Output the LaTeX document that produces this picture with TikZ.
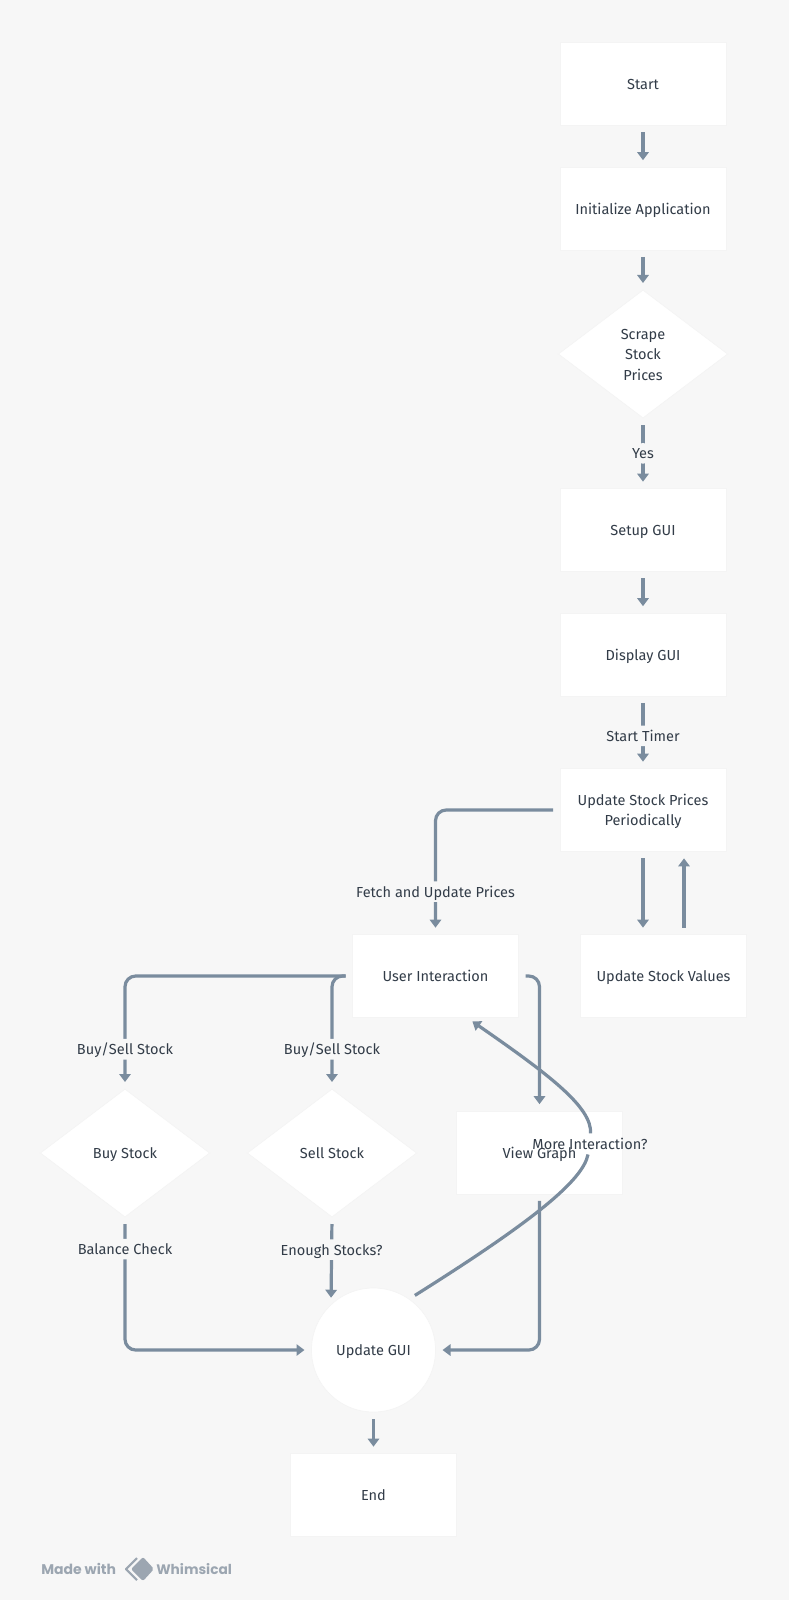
\documentclass[tikz,border=0pt]{standalone}
\usepackage{fontspec}
\setmainfont{Fira Sans}
\newfontfamily\markfont{Poppins}
\usetikzlibrary{arrows.meta,shapes.geometric}
\definecolor{pagebg}{RGB}{247, 247, 247}
\definecolor{flowline}{RGB}{122, 140, 158}
\definecolor{inktext}{RGB}{50, 60, 72}
\definecolor{markgrey}{RGB}{156, 166, 177}
\definecolor{edgefaint}{RGB}{244, 244, 244}
\newcommand{\tstrut}{\rule[-3.5pt]{0pt}{15.4pt}}

\tikzset{
    base/.style={fill=white, draw=edgefaint, line width=0.5pt, inner sep=0pt, align=center,
        text=inktext, font=\fontsize{10.9pt}{15.4pt}\selectfont},
    proc/.style={base, rectangle, minimum width=124.5pt, minimum height=62pt},
    decision/.style={base, diamond, aspect=1.33, minimum width=127pt, minimum height=96pt},
    roundproc/.style={base, circle, minimum size=93pt},
    flow/.style={draw=flowline, line width=2.4pt, rounded corners=8pt, shorten <=5pt,
        shorten >=5pt, -{Triangle[width=8.5pt,length=6pt]}},
    flowtail/.style={draw=flowline, line width=2.4pt},
    lbl/.style={fill=pagebg, inner sep=0pt, text=inktext, execute at begin node=\tstrut,
        font=\fontsize{10.9pt}{15.4pt}\selectfont}
}

\begin{document}
\begin{tikzpicture}[x=0.75pt, y=-0.75pt]

    % --- Fondo ---
    \fill[pagebg] (0,0) rectangle (789,1600);

    % --- Cajas (nombre, x, y, texto) ---
    \foreach \name/\px/\py/\txt in {
        start/643/84/Start,
        init/643/208.5/Initialize Application,
        setup/643/530/Setup GUI,
        display/643/654.5/Display GUI,
        prices/643/810/{Update Stock Prices\\Periodically},
        user/435.5/976/User Interaction,
        values/663.5/976/Update Stock Values,
        graph/539.5/1152.5/View Graph,
        finish/373.5/1495/End}{
        \node[proc] (\name) at (\px, \py) {\tstrut\txt\tstrut};
    }

    % --- Rombos ---
    \foreach \name/\px/\py/\txt in {
        scrape/643/354/{Scrape\\Stock\\Prices},
        buy/125/1153/Buy Stock,
        sell/332/1153/Sell Stock}{
        \node[decision] (\name) at (\px, \py) {\tstrut\txt\tstrut};
    }

    \node[roundproc] (gui) at (373.5, 1350) {\tstrut Update GUI};

    % --- Conectores de la columna derecha ---
    \draw[flow] (start) -- (init);
    \draw[flow] (init) -- (scrape);
    \draw[flow] (scrape) -- (setup) node[midway, lbl] {Yes};
    \draw[flow] (setup) -- (display);
    \draw[flow] (display) -- (prices) node[pos=0.55, lbl] {Start Timer};
    \draw[flow] (prices.south) -- (prices.south |- values.north);
    \draw[flow] ([xshift=15.4pt]values.north) -- ([xshift=15.4pt]values.north |- prices.south);
    \draw[flow] (prices.west) -| (user.north) node[pos=0.828, lbl] {Fetch and Update Prices};

    % --- Ramas de la interaccion ---
    \draw[flow] (user.west) -| (buy.north) node[pos=0.825, lbl] {Buy/Sell Stock};
    \draw[flow] (user.west) -| (sell.north) node[pos=0.825, lbl] {Buy/Sell Stock};
    \draw[flow] (user.east) -| (graph.north);
    \draw[flow] (buy.south) |- (gui.west) node[pos=0.12, lbl] {Balance Check};
    \draw[flow] (sell.south) -- (gui.133) node[pos=0.37, lbl] {Enough Stocks?};
    \draw[flow] (graph.south) |- (gui.east);
    \draw[flow] (gui.south) -- (finish.north);

    % Curva partida en dos para no tapar la caja
    \coordinate (more) at (590, 1144);
    \draw[flowtail, shorten <=5pt, shorten >=8pt] (gui.55)
        .. controls (532.5, 1221.5) and (583, 1180.5) .. (more);
    \draw[flowtail, shorten <=8pt, shorten >=5pt, -{Triangle[width=8.5pt,length=6pt]}] (more)
        .. controls (592, 1107.5) and (550.5, 1075.5) .. (user.-53);
    \node[lbl, fill=none] (morelbl) at (more) {More Interaction?};

    % --- Marca ---
    \node[anchor=west, inner sep=0pt, text=markgrey, font=\markfont\bfseries\fontsize{10.5pt}{12pt}\selectfont] (made) at (41, 1569) {Made with};
    \node[anchor=west, inner sep=0pt, text=markgrey, font=\markfont\bfseries\fontsize{10.3pt}{12pt}\selectfont] (whim) at (156, 1569) {Whimsical};
    \draw[markgrey, line width=1.6pt, line join=round] (137, 1558) -- (126, 1569) -- (137, 1580);
    \fill[markgrey, rounded corners=1.5pt] (143, 1557) -- (154, 1569) -- (143, 1581) -- (131, 1569) -- cycle;

\end{tikzpicture}
\end{document}
